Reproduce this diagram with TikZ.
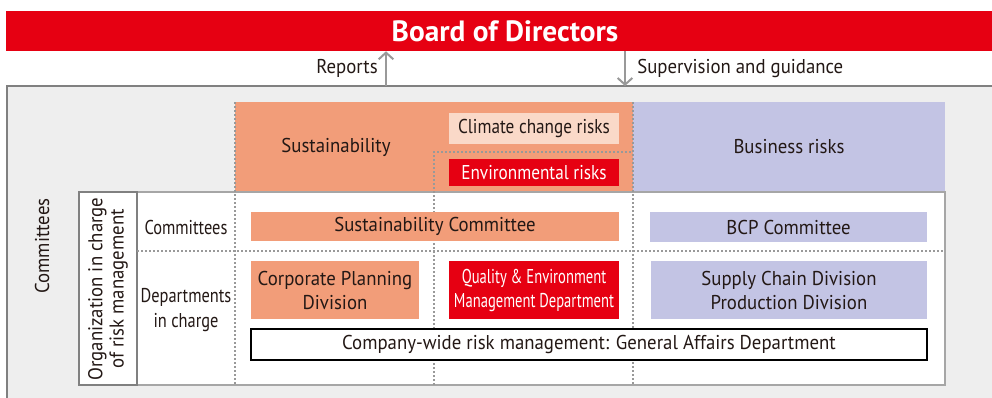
\documentclass[tikz,border=0pt]{standalone}
\usepackage{fontspec}
\setmainfont[FakeStretch=0.94]{PT Sans}
\newfontfamily\boardfont{PT Sans}
\newfontfamily\slimfont[FakeStretch=0.86]{PT Sans}
\newfontfamily\rowfont[FakeStretch=0.82]{PT Sans}
\newfontfamily\narrowfont[FakeStretch=0.73]{PT Sans}
\usetikzlibrary{positioning,arrows.meta}

\definecolor{boardred}{HTML}{E60012}
\definecolor{sustorange}{HTML}{F29D79}
\definecolor{climatepeach}{HTML}{FAD9C8}
\definecolor{busblue}{HTML}{C3C4E4}
\definecolor{panelgrey}{HTML}{EEEEEE}
\definecolor{inktext}{HTML}{231815}
\definecolor{linegrey}{HTML}{999999}

\newdimen\px
\px=0.75pt

\begin{document}
\begin{tikzpicture}[x=0.75pt, y=-0.75pt, font=\fontsize{15}{18}\selectfont, text=inktext]
    \tikzstyle{area} = [rectangle, inner sep=0pt, align=center]
    \tikzstyle{orangebox} = [area, fill=sustorange]
    \tikzstyle{bluebox} = [area, fill=busblue]
    \tikzstyle{redbox} = [area, fill=boardred, text=white]
    \tikzstyle{label} = [inner sep=0pt, align=center]
    \tikzstyle{grid} = [linegrey, line width=0.8pt, dash pattern=on 1.5pt off 1.5pt]
    \tikzstyle{arrow} = [linegrey, line width=1.5pt, -{Straight Barb[length=5pt, width=11pt]}]

    \useasboundingbox (0,0) rectangle (992,397);

    % board and outer panel
    \node (board) [redbox, minimum width=998\px, minimum height=40\px,
      font=\fontsize{22}{26}\boardfont\bfseries] at (505,31) {Board of Directors};
    \fill[panelgrey] (7,86) rectangle (1000,410);
    \draw[gray, line width=1.2pt] (7,410) -- (7,86) -- (1000,86);

    % risk categories
    \node (sust) [orangebox, minimum width=398\px, minimum height=90\px] at (434,147) {};
    \node (business) [bluebox, minimum width=312\px, minimum height=90\px] at (789,147) {Business risks};
    \node (susttext) [label] at (336,147) {Sustainability};

    % organization table
    \draw[gray!70, line width=0.9pt, fill=white] (79,192) rectangle (945,385);
    \draw[gray, line width=0.9pt] (79,192) rectangle (137,385);

    \draw[grid] (235,102) -- (235,385);
    \draw[grid] (633,102) -- (633,385);
    \draw[grid] (434,385) -- (434,152) -- (633,152);
    \draw[grid] (137,251) -- (945,251);

    \node (climate) [area, fill=climatepeach, minimum width=170\px, minimum height=31\px, font=\fontsize{15}{18}\slimfont] at (534,128.5) {Climate change risks};
    \node (envrisks) [redbox, minimum width=170\px, minimum height=27\px, font=\fontsize{15}{18}\slimfont] at (534,172.5) {Environmental risks};

    \node (committees) [label, rotate=90] at (42,246) {Committees};
    \node (orglabel) [label, rotate=90, font=\fontsize{15}{16}\selectfont] at (108,289) {Organization in charge\\of risk management};
    \node (rowcom) [label, font=\fontsize{15}{18}\rowfont] at (186,227) {Committees};
    \node (rowdept) [label, font=\fontsize{15}{19}\rowfont] at (186,310) {Departments\\in charge};

    \node (sustcom) [orangebox, minimum width=368\px, minimum height=29\px] at (435,226.5) {Sustainability Committee};
    \node (bcpcom) [bluebox, minimum width=277\px, minimum height=30\px] at (788.5,227) {BCP Committee};

    \node (corpplan) [orangebox, minimum width=168\px, minimum height=58\px] at (335,290) {Corporate Planning\\Division};
    \node (qualenv) [redbox, minimum width=170\px, minimum height=58\px, font=\fontsize{15}{18}\narrowfont] at (534,290) {Quality \& Environment\\Management Department};
    \node (supply) [bluebox, minimum width=276\px, minimum height=58\px] at (789,290) {Supply Chain Division\\Production Division};
    \node (companywide) [area, draw=black, line width=0.8pt, fill=white, minimum width=676\px, minimum height=31\px] at (589,344.5) {Company-wide risk management: General Affairs Department};

    % reporting lines
    \coordinate (upfoot) at (386,86);
    \coordinate (downfoot) at (625,86);
    \draw [arrow] (upfoot) -- (upfoot |- board.south);
    \draw [arrow] (downfoot |- board.south) -- (downfoot);
    \node (reports) [label, anchor=east] at (378,68) {Reports};
    \node (supervision) [label, anchor=west] at (637,68) {Supervision and guidance};
\end{tikzpicture}
\end{document}
